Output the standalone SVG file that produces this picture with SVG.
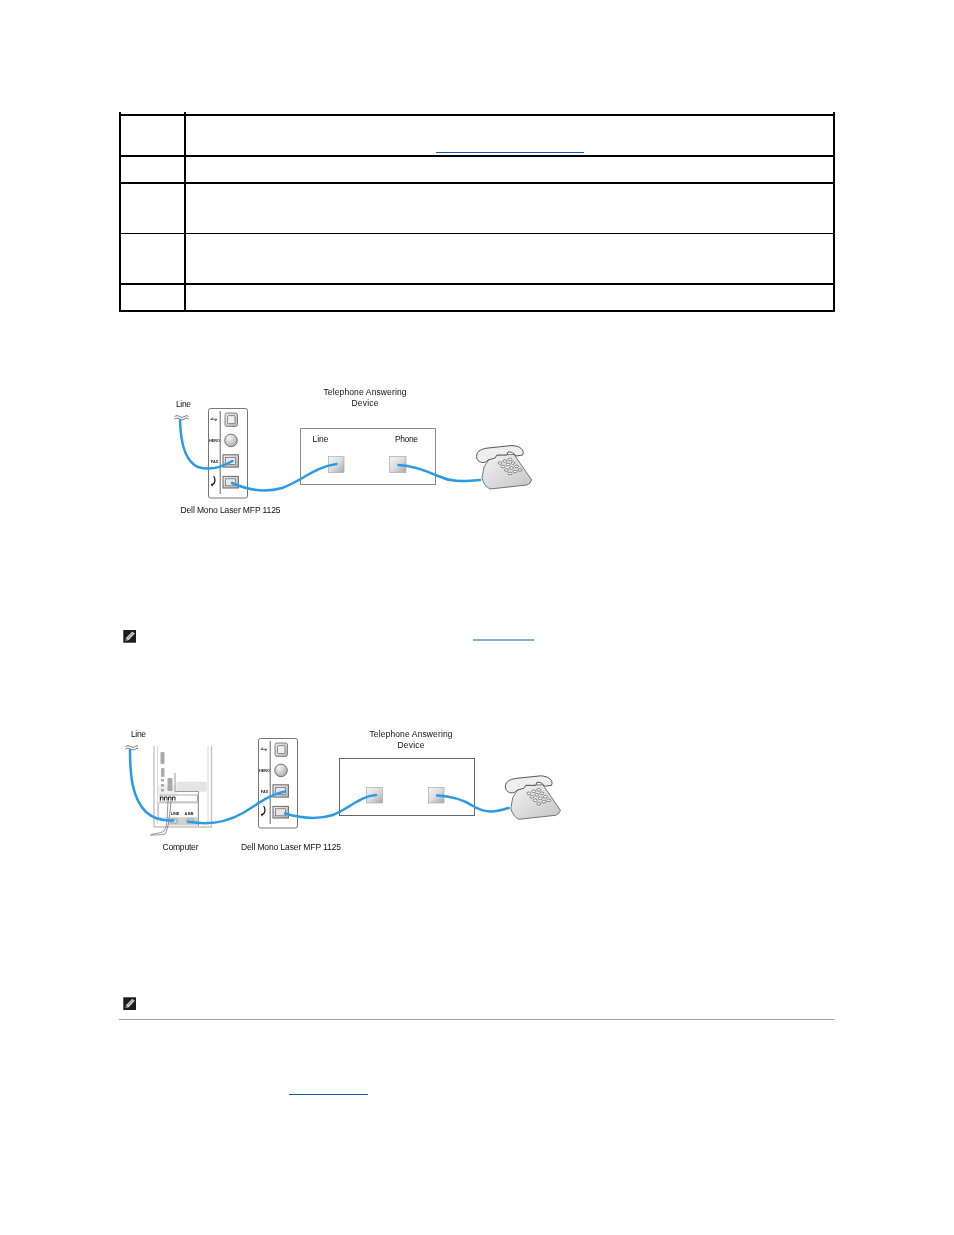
<svg xmlns="http://www.w3.org/2000/svg" width="954" height="1235" viewBox="0 0 954 1235">
<style>
.tb{stroke:#000;stroke-width:2;fill:none}
.tn{stroke:#000;stroke-width:1;fill:none}
.lk{stroke:#0a5cb0;stroke-width:1.200;fill:none}
.t{font-family:"Liberation Sans",Arial,sans-serif;font-size:8.500px;fill:#111;text-anchor:middle}
.s{font-family:"Liberation Sans",Arial,sans-serif;font-size:3.800px;fill:#222;text-anchor:middle;font-weight:bold}
.c{fill:none;stroke:#2b9ae6;stroke-width:2.500;stroke-linecap:round}
.ol{fill:none;stroke:#444;stroke-width:.7}
.pt{fill:url(#pg);stroke:#666;stroke-width:1}
</style>
<defs>
<filter id="soft" x="-5%" y="-5%" width="110%" height="110%"><feGaussianBlur stdDeviation="0.3"/></filter>
<linearGradient id="pg" x1="0" y1="0" x2="1" y2="1"><stop offset="0" stop-color="#f2f2f2"/><stop offset="1" stop-color="#b4b4b4"/></linearGradient>
<linearGradient id="ta" x1="0" y1="0" x2="1" y2="1"><stop offset="0" stop-color="#f6f6f6"/><stop offset=".5" stop-color="#dcdcdc"/><stop offset="1" stop-color="#a8a8a8"/></linearGradient>
<radialGradient id="cg" cx=".35" cy=".3" r=".8"><stop offset="0" stop-color="#f5f5f5"/><stop offset="1" stop-color="#a8a8a8"/></radialGradient>
<linearGradient id="pb" x1="0" y1="0" x2="1" y2="1"><stop offset="0" stop-color="#f4f4f4"/><stop offset="1" stop-color="#c4c4c4"/></linearGradient>
<symbol id="panel" overflow="visible" viewBox="0 0 40 90" width="40" height="90">
<rect x=".5" y=".5" width="39" height="89.500" rx="2" fill="#fff" stroke="#666" stroke-width=".9"/>
<path d="M12.200 3V86" stroke="#555" stroke-width=".9"/>
<path d="M2.500 11.300H9M5 9.500l-2 1.800M7 13l2-1.700" stroke="#333" stroke-width=".8" fill="none"/>
<rect x="17" y="5" width="12.500" height="13.400" rx="2" fill="url(#pg)" stroke="#777" stroke-width=".9"/>
<rect x="19.500" y="7.600" width="7.500" height="8" rx="1" fill="#eee" stroke="#666" stroke-width=".7"/>
<circle cx="23" cy="32.400" r="6.300" fill="url(#cg)" stroke="#666" stroke-width=".9"/>
<text class="s" x="6.500" y="34">HERO</text>
<rect x="15" y="46.800" width="15.400" height="12.300" class="pt"/><rect x="17.600" y="49.300" width="10" height="7.300" fill="#e8e8e8" stroke="#555" stroke-width=".6"/>
<text class="s" x="6.500" y="54.500">FAX</text>
<rect x="15" y="68.400" width="15.400" height="11.600" class="pt"/><rect x="17.600" y="70.800" width="10" height="7" fill="#e8e8e8" stroke="#555" stroke-width=".6"/>
<path d="M5.600 68C8 71 7.500 75 4 77" fill="none" stroke="#111" stroke-width="1.200"/><path d="M4.200 75.500l-1 1.500 1.500 1" fill="none" stroke="#111" stroke-width="1"/>
</symbol>
<symbol id="phone" overflow="visible" viewBox="0 0 70 55" width="70" height="55">
<path d="M22 15L44 14.500L61.700 40L60 43L57 45L20 49Q14 46 12 38L14 27Z" fill="url(#pb)" stroke="#555" stroke-width=".8"/>
<path d="M7 19C5 12 10 9 18 8L42 5.500C50 6 55 10 52.700 15L46 16C44 13 41 11.500 38 12L37 15L27 15L25 18L18 20C15 24 9 23 7 19Z" fill="#eee" stroke="#444" stroke-width=".9"/>
<g fill="#fafafa" stroke="#444" stroke-width=".6">
<ellipse cx="30" cy="23" rx="2" ry="1.300"/><ellipse cx="35" cy="21" rx="2" ry="1.300"/><ellipse cx="40" cy="19.500" rx="2" ry="1.300"/>
<ellipse cx="33" cy="26.500" rx="2" ry="1.300"/><ellipse cx="38" cy="24.500" rx="2" ry="1.300"/><ellipse cx="43" cy="23" rx="2" ry="1.300"/>
<ellipse cx="36.500" cy="30" rx="2" ry="1.300"/><ellipse cx="41.500" cy="28" rx="2" ry="1.300"/><ellipse cx="46.500" cy="26.500" rx="2" ry="1.300"/>
<ellipse cx="40" cy="33.500" rx="2" ry="1.300"/><ellipse cx="45" cy="31.500" rx="2" ry="1.300"/><ellipse cx="50" cy="30" rx="2" ry="1.300"/>
</g>
</symbol>
<symbol id="note" overflow="visible" viewBox="0 0 13 13" width="13" height="13">
<rect width="12.700" height="12.700" fill="#1c1c1c"/>
<path d="M2 11L3 7.500L9 1.500L11.500 3.500L5.500 10Z" fill="#ccc"/><path d="M2 11L3 8.500L4.500 10Z" fill="#666"/><path d="M4.500 8L9.500 3" stroke="#777" stroke-width=".7"/>
</symbol>
</defs>
<rect width="954" height="1235" fill="#fff"/>

<g id="table">
<path class="tb" d="M120 112V312M185 112V312M834 112V312"/>
<path class="tb" d="M119 115H835M119 156H835M119 183H835M119 284H835M119 311H835"/>
<path class="tn" d="M119 233.500H835"/>
<path class="lk" d="M436 152.500H584"/>
</g>

<g id="diagram-1" filter="url(#soft)">
<g id="d1-line-label"><text class="t" x="183.500" y="406.500" textLength="15">Line</text><path class="ol" d="M174.500 416.500q2.500-2 5 0t5 0t4 0M174.500 419q2.500-2 5 0t5 0t4 0"/></g>
<g id="d1-mfp"><use href="#panel" x="208" y="408"/><text class="t" x="230.500" y="512.500" textLength="100">Dell Mono Laser MFP 1125</text></g>
<g id="d1-tad">
<rect x="300.500" y="428.500" width="135" height="56" fill="#fff" stroke="#888"/>
<text class="t" x="365" y="394.500" textLength="83">Telephone Answering</text><text class="t" x="365" y="406" textLength="27">Device</text>
<text class="t" x="320.500" y="441.500" textLength="16">Line</text><text class="t" x="406.500" y="441.500" textLength="23">Phone</text>
<rect x="328.500" y="456.500" width="15.500" height="16" fill="url(#ta)" stroke="#aaa" stroke-width=".7"/>
<rect x="389.500" y="456.500" width="16.500" height="16" fill="url(#ta)" stroke="#aaa" stroke-width=".7"/>
</g>
<g id="d1-phone"><use href="#phone" x="470" y="440"/></g>
<g id="d1-connectors">
<path class="c" d="M180 420C180.500 440 184 461 198 467C210 471 222 467 232.500 461"/>
<path class="c" d="M232 483C250 491 268 492 282 488C302 481 314 467 336.500 464"/>
<path class="c" d="M398.500 465C415 466 427 471 438 476C453 483 464 481 480 480"/>
</g>
</g>

<g id="note-1"><use href="#note" x="123.300" y="630"/><path class="lk" d="M473 640H534.500"/></g>

<g id="diagram-2" filter="url(#soft)">
<g id="d2-line-label"><text class="t" x="138.500" y="737" textLength="15">Line</text><path class="ol" d="M125.500 746.500q2.500-2 5 0t5 0t2 0M125.500 749q2.500-2 5 0t5 0t2 0"/></g>
<g id="d2-computer">
<rect x="176" y="746" width="33" height="45" fill="#f6f6f6"/>
<path d="M154 746V827H211.500V746" fill="#fff" stroke="#c4c4c4" stroke-width="1.400"/>
<path d="M157.500 746V824M208 746V826" stroke="#d4d4d4" stroke-width=".9" fill="none"/>
<rect x="176.700" y="781.700" width="30" height="10" fill="#e4e4e4"/><rect x="158" y="785" width="19" height="9" fill="#eee"/>
<g fill="#aaa"><rect x="160.500" y="752" width="4" height="12" rx="1"/><rect x="161" y="768" width="3.500" height="9" rx="1"/><rect x="161" y="779" width="3" height="2.500"/><rect x="161" y="784" width="3" height="2.500"/><rect x="161" y="789" width="3" height="2.500"/><rect x="167.500" y="778" width="5" height="13" rx="1"/></g>
<path d="M175 773V791.500H198.500V826" fill="none" stroke="#999" stroke-width="1"/>
<rect x="160" y="795" width="37.500" height="7" fill="#fff" stroke="#888" stroke-width=".7"/>
<path d="M160.500 800.500v-3.500h2.500v3.500M164.500 800.500v-3.500h2.500v3.500M168.500 800.500v-3.500h2.500v3.500M172.500 800.500v-3.500h2.500v3.500" fill="none" stroke="#111" stroke-width=".9"/>
<rect x="158.500" y="803" width="39.500" height="15" fill="#fff" stroke="#aaa" stroke-width=".6"/>
<rect x="168" y="817.500" width="30" height="8" fill="#d0d0d0"/>
<text class="s" x="175" y="815">LINE</text><text class="s" x="189" y="815">A BB</text>
<rect x="171" y="819" width="6" height="4" fill="#d8e8f0" stroke="#666" stroke-width=".5"/><rect x="187" y="819" width="6" height="4" fill="#d8e8f0" stroke="#666" stroke-width=".5"/>
<path d="M168 801C167 812 168 826 164 831C160 834 153 833 150.500 835C156 835 161 835 165 834C168 830 170 814 171 801" fill="none" stroke="#777" stroke-width=".8"/>
<text class="t" x="180.500" y="850" textLength="36">Computer</text>
</g>
<g id="d2-mfp"><use href="#panel" x="258" y="738"/><text class="t" x="291" y="850" textLength="100">Dell Mono Laser MFP 1125</text></g>
<g id="d2-tad">
<rect x="339.500" y="758.500" width="135" height="57" fill="#fff" stroke="#666"/>
<text class="t" x="411" y="736.500" textLength="83">Telephone Answering</text><text class="t" x="411" y="747.500" textLength="27">Device</text>
<rect x="366.500" y="787.500" width="16" height="15.500" fill="url(#ta)" stroke="#aaa" stroke-width=".7"/>
<rect x="428.500" y="787.500" width="15.500" height="15.500" fill="url(#ta)" stroke="#aaa" stroke-width=".7"/>
</g>
<g id="d2-phone"><use href="#phone" x="498.800" y="770.300"/></g>
<g id="d2-connectors">
<path class="c" d="M130 750C130 775 132 798 146 812C155 820 165 821 173.500 820.500"/>
<path class="c" d="M188.500 821.500C205 825 225 823 243 813C258 804 270 794 285 791.500"/>
<path class="c" d="M285 813.500C297 817 314 821 333 815C350 808 360 796 376 795"/>
<path class="c" d="M437 795.500C452 796 462 799 473 806C486 814 496 812 508.500 808"/>
</g>
</g>

<g id="note-2"><use href="#note" x="123.300" y="997.300"/></g>
<path id="rule" d="M119 1019.500H834.500" stroke="#a0a0a0" stroke-width="1" fill="none"/>
<path id="link-3" class="lk" d="M289 1094.500H368"/>
</svg>
